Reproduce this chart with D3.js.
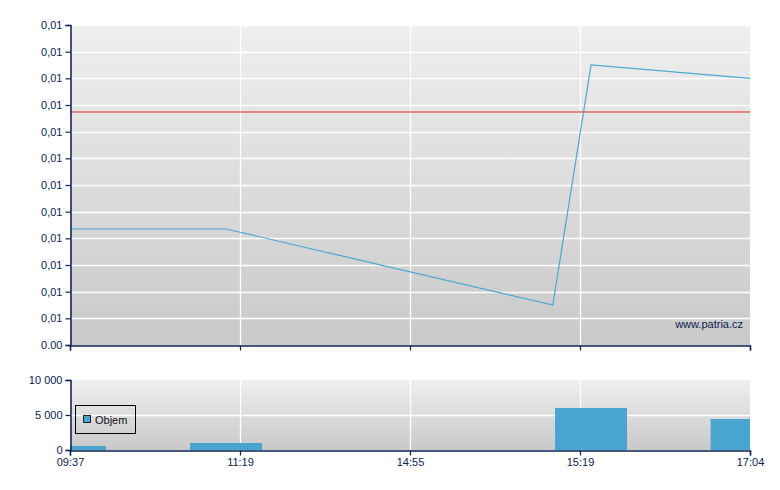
<!DOCTYPE html>
<html><head><meta charset="utf-8">
<script src="https://cdn.jsdelivr.net/npm/d3@7"></script>
<style>body{margin:0;background:#fff}svg{display:block}text{font-family:"Liberation Sans",Arial,sans-serif}</style>
</head><body><svg id="c" width="780" height="490"></svg>
<script>
// category positions along x (ordinal time axis)
const xTickLabels = ["09:37","11:19","14:55","15:19","17:04"];
const yTickLabels = ["0.00","0,01","0,01","0,01","0,01","0,01","0,01","0,01","0,01","0,01","0,01","0,01","0,01"];
const yTickValues = [0.0090,0.0091,0.0092,0.0093,0.0094,0.0095,0.0096,0.0097,0.0098,0.0099,0.0100,0.0101,0.0102];
const priceX = [0, 0.918, 2.84, 3.065, 4];
const priceY = [0.009435, 0.009435, 0.00915, 0.01005, 0.0100];
const refLine = 0.009874;
const volX = [0, 0.918, 3.065, 3.98];
const volY = [570, 1000, 6000, 4430];
const volTicks = [0, 5000, 10000];
const volTickLabels = ["0","5 000","10 000"];

const svg = d3.select("#c");
const L = 70, R = 750, T1 = 25, B1 = 345, T2 = 380, B2 = 450;
const navy = "#0b2255";
const FONT = "Liberation Sans, Arial, sans-serif";
const x = d3.scaleLinear().domain([0,4]).range([L,R]);
const y = d3.scaleLinear().domain([0.0090,0.0102]).range([B1,T1]);
const yv = d3.scaleLinear().domain([0,10000]).range([B2,T2]);

const defs = svg.append("defs");
const g1 = defs.append("linearGradient").attr("id","bg1").attr("x1",0).attr("y1",0).attr("x2",0).attr("y2",1);
g1.append("stop").attr("offset","0%").attr("stop-color","#efefef");
g1.append("stop").attr("offset","100%").attr("stop-color","#c9c9c9");
const g2 = defs.append("linearGradient").attr("id","bg2").attr("x1",0).attr("y1",0).attr("x2",0).attr("y2",1);
g2.append("stop").attr("offset","0%").attr("stop-color","#efefef");
g2.append("stop").attr("offset","100%").attr("stop-color","#c9c9c9");
defs.append("clipPath").attr("id","cp1").append("rect").attr("x",L).attr("y",T1).attr("width",R-L).attr("height",B1-T1);
defs.append("clipPath").attr("id","cp2").append("rect").attr("x",L).attr("y",T2).attr("width",R-L).attr("height",B2-T2);

// Main panel
svg.append("rect").attr("x",L).attr("y",T1).attr("width",R-L).attr("height",B1-T1).attr("fill","url(#bg1)");
svg.append("g").selectAll("line").data(yTickValues.slice(1)).join("line")
  .attr("x1",L).attr("x2",R).attr("y1",d=>Math.round(y(d))+0.5).attr("y2",d=>Math.round(y(d))+0.5)
  .attr("stroke","#fff").attr("stroke-width",1.3);
svg.append("g").selectAll("line").data(d3.range(1,4)).join("line")
  .attr("y1",T1).attr("y2",B1).attr("x1",d=>x(d)+0.5).attr("x2",d=>x(d)+0.5)
  .attr("stroke","#fff").attr("stroke-width",1.3);
svg.append("line").attr("x1",L).attr("x2",R).attr("y1",y(refLine)).attr("y2",y(refLine))
  .attr("stroke","#e06666").attr("stroke-width",1.5);
svg.append("path").attr("clip-path","url(#cp1)")
  .datum(priceX.map((d,i)=>[d,priceY[i]]))
  .attr("d",d3.line().x(d=>x(d[0])).y(d=>y(d[1])))
  .attr("fill","none").attr("stroke","#4aa8d2").attr("stroke-width",1.2);
svg.append("text").attr("x",743).attr("y",328).attr("text-anchor","end")
  .attr("font-size",11).attr("fill",navy).text("www.patria.cz");

svg.append("g").attr("transform",`translate(${L+0.5},0)`)
  .call(d3.axisLeft(y).tickValues(yTickValues).tickSize(5).tickFormat((d,i)=>yTickLabels[i]));
svg.append("g").attr("transform",`translate(0,${B1+0.5})`)
  .call(d3.axisBottom(x).tickValues(d3.range(0,5)).tickSize(5).tickFormat(""));

// Volume panel
svg.append("rect").attr("x",L).attr("y",T2).attr("width",R-L).attr("height",B2-T2).attr("fill","url(#bg2)");
svg.append("line").attr("x1",L).attr("x2",R).attr("y1",yv(5000)+0.5).attr("y2",yv(5000)+0.5).attr("stroke","#fff").attr("stroke-width",1.3);
svg.append("g").selectAll("line").data(d3.range(1,4)).join("line")
  .attr("y1",T2).attr("y2",B2).attr("x1",d=>x(d)+0.5).attr("x2",d=>x(d)+0.5)
  .attr("stroke","#fff").attr("stroke-width",1.3);
const bw = 72;
svg.append("g").attr("clip-path","url(#cp2)").selectAll("rect").data(volX.map((d,i)=>[d,volY[i]])).join("rect")
  .attr("x",d=>x(d[0])-bw/2).attr("width",bw).attr("y",d=>yv(d[1])).attr("height",d=>B2-yv(d[1]))
  .attr("fill","#47a5cf");
svg.append("g").attr("transform",`translate(${L+0.5},0)`)
  .call(d3.axisLeft(yv).tickValues(volTicks).tickSize(5).tickFormat((d,i)=>volTickLabels[i]));
svg.append("g").attr("transform",`translate(0,${B2+0.5})`)
  .call(d3.axisBottom(x).tickValues(d3.range(0,5)).tickSize(5).tickFormat((d,i)=>xTickLabels[i]));

// Legend
const lg = svg.append("g");
lg.append("rect").attr("x",75.5).attr("y",405.5).attr("width",60).attr("height",28).attr("fill","none").attr("stroke","#000");
lg.append("rect").attr("x",83.5).attr("y",415.5).attr("width",7).attr("height",7).attr("fill","#47a5cf").attr("stroke","#222");
lg.append("text").attr("x",95).attr("y",424).attr("font-size",11).attr("fill","#111").text("Objem");

svg.selectAll(".domain").attr("stroke",navy).attr("stroke-width",1.5);
svg.selectAll(".tick line").attr("stroke",navy).attr("stroke-width",1.2);
svg.selectAll(".tick text").attr("fill",navy).attr("font-size",11).attr("font-family",FONT);
</script></body></html>
